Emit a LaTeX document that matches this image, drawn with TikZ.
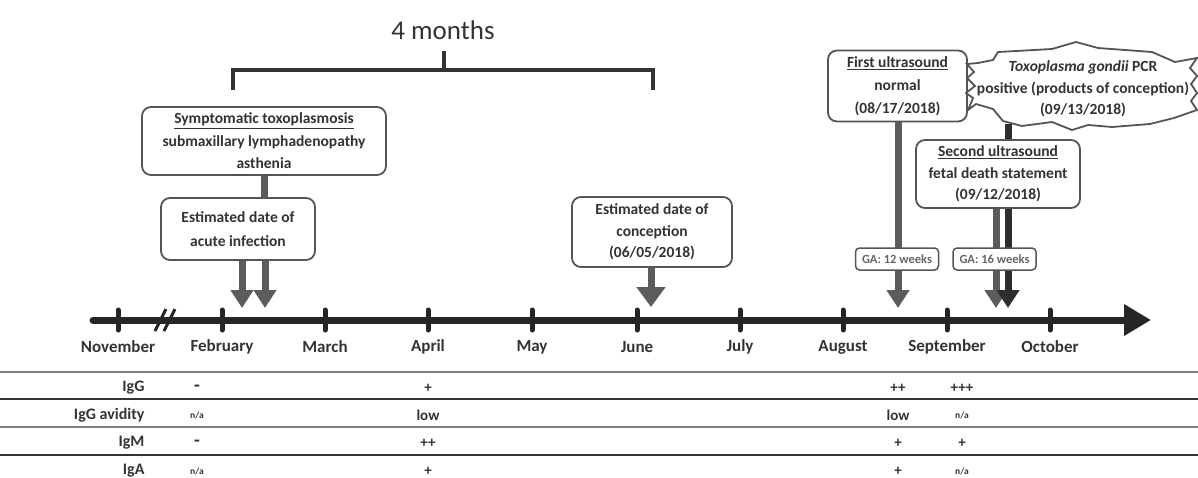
\documentclass[tikz,border=0pt]{standalone}
\usepackage{fontspec}
\setmainfont{Carlito}
\usetikzlibrary{arrows.meta}
\definecolor{txt}{HTML}{333333}
\definecolor{boxc}{HTML}{555555}
\definecolor{arr}{HTML}{5C5C5C}
\definecolor{darr}{HTML}{2E2E2E}
\definecolor{axisc}{HTML}{262626}
\definecolor{rulec}{HTML}{808080}
\definecolor{ruled}{HTML}{333333}
\definecolor{gatxt}{HTML}{666666}
\begin{document}
\begin{tikzpicture}[x=1pt,y=-1pt,
  evbox/.style={draw=boxc, line width=1.8pt, rounded corners=9pt, fill=white, align=center,
    inner sep=0pt, text=txt, font=\bfseries\fontsize{15.5}{22.5}\selectfont},
  galabel/.style={draw=boxc, line width=1.5pt, rounded corners=4pt, fill=white, inner sep=0pt,
    minimum width=83pt, minimum height=22pt, text=gatxt, font=\bfseries\fontsize{12.5}{14}\selectfont},
  garrow/.style={draw=arr, line width=7pt, -{Triangle[width=22pt,length=18pt]}},
  darrow/.style={draw=darr, line width=7pt, -{Triangle[width=22pt,length=18pt]}},
  link/.style={draw=arr, line width=7pt},
  dlink/.style={draw=darr, line width=7pt},
  axisline/.style={draw=axisc, line width=7pt, line cap=round, -{Triangle[width=30pt,length=27pt]}},
  tick/.style={draw=axisc, line width=5pt, line cap=round},
  month/.style={text=txt, font=\bfseries\fontsize{17}{20}\selectfont},
  rowlab/.style={text=txt, anchor=east, font=\bfseries\fontsize{16}{18}\selectfont},
  val/.style={text=txt, font=\bfseries\fontsize{15}{18}\selectfont},
  dashv/.style={text=txt, font=\bfseries\fontsize{19}{20}\selectfont},
  na/.style={text=txt, font=\bfseries\fontsize{9.5}{11}\selectfont},
  tabrule/.style={draw=rulec, line width=2pt},
  tabruled/.style={draw=ruled, line width=1.4pt},
  bracket/.style={draw=txt, line width=4pt}
]
\useasboundingbox (0,0) rectangle (1198,477);

% ---- 4 months bracket
\node[text=txt, font=\fontsize{27}{30}\selectfont, anchor=base] (fourm) at (443,39) {4 months};
\coordinate (bl) at (233,90);
\coordinate (br) at (653,90);
\coordinate (bm) at (444,70);
\coordinate (bt) at (444,51);
\draw[bracket] (bl) |- (bm) -| (br);
\draw[bracket] (bt) -- (bm);

% ---- timeline
\coordinate (t0) at (93,320);
\coordinate (t1) at (1151,320);
\draw[axisline] (t0) -- (t1);
\foreach \x/\m in {118/November,222/February,325/March,428/April,532/May,637/June,740/July,843/August,947/September,1050/October}{
  \draw[tick] (\x,310) -- (\x,330);
  \node[month] at (\x,347) {\m};
}
\draw[draw=axisc, line width=3pt] (155,331) -- (166,309);
\draw[draw=axisc, line width=3pt] (164,331) -- (175,309);

% ---- boxes
\node[evbox, minimum width=244pt, minimum height=68pt] (sympt) at (264,141)
  {\underline{Symptomatic toxoplasmosis}\\submaxillary lymphadenopathy\\asthenia};
\node[evbox, minimum width=154pt, minimum height=62pt, font=\bfseries\fontsize{15.5}{24}\selectfont] (acute) at (238,229)
  {Estimated date of\\acute infection};
\node[evbox, minimum width=160pt, minimum height=70pt, font=\bfseries\fontsize{15.5}{21.5}\selectfont] (concep) at (652,232)
  {Estimated date of\\conception\\(06/05/2018)};
\node[evbox, minimum width=139pt, minimum height=71pt, font=\bfseries\fontsize{15.5}{23}\selectfont] (first) at (897.5,86)
  {\underline{First ultrasound}\\normal\\(08/17/2018)};

% cloud
\draw[draw=boxc, line width=1.8pt, fill=white]
  (978,63) -- (993,60) -- (998,52) -- (1052,49) -- (1076,42) -- (1098,48) -- (1152,52)
  -- (1175,62) -- (1197,58) -- (1190,68) -- (1197,76) -- (1191,84) -- (1197,93)
  -- (1191,101) -- (1197,110) -- (1174,118)
  -- (1150,124) -- (1112,127) -- (1088,125) -- (1072,130) -- (1052,122) -- (1022,126)
  -- (1003,121) -- (993,109) -- (976,104) -- (968,110) -- (973,98) -- (966,93)
  -- (975,86) -- (967,78) -- (974,72) -- (967,64) -- cycle;
\node[align=center, inner sep=0pt, text=txt, font=\bfseries\fontsize{15.5}{21.5}\selectfont] (cloud) at (1083,89)
  {\textit{Toxoplasma gondii} PCR\\positive (products of conception)\\(09/13/2018)};
\coordinate (cb) at (1008,124);

\node[evbox, minimum width=164pt, minimum height=68pt, font=\bfseries\fontsize{15.5}{21.5}\selectfont] (second) at (998,174)
  {\underline{Second ultrasound}\\fetal death statement\\(09/12/2018)};

% ---- connectors
\draw[link] (sympt.south) -- (acute.north -| sympt.south);
\draw[dlink] (cb) -- (second.north -| cb);

\coordinate (a1) at (242,308);
\coordinate (a2) at (265,308);
\coordinate (a3) at (651,307);
\coordinate (a4) at (898,308);
\coordinate (a5) at (996,308);
\coordinate (a6) at (1008,308);
\draw[garrow] (acute.south -| a1) -- (a1);
\draw[garrow] (acute.south -| a2) -- (a2);
\draw[garrow, -{Triangle[width=28pt,length=20pt]}] (concep.south -| a3) -- (a3);
\draw[garrow] (first.south -| a4) -- (a4);
\draw[garrow] (second.south -| a5) -- (a5);
\draw[darrow] (second.south -| a6) -- (a6);

\node[galabel] (ga12) at (897,259) {GA: 12 weeks};
\node[galabel] (ga16) at (994.5,259) {GA: 16 weeks};

% ---- table
\draw[tabrule] (0,372) -- (1198,372);
\draw[tabruled] (0,399) -- (1198,399);
\draw[tabrule] (0,427) -- (1198,427);
\draw[tabruled] (0,455) -- (1198,455);
\node[rowlab] at (148,388) {IgG};
\node[rowlab] at (148,415) {IgG avidity};
\node[rowlab] at (148,443) {IgM};
\node[rowlab] at (148,471) {IgA};

\node[dashv] at (197,388) {-};
\node[na]  at (197,415) {n/a};
\node[dashv] at (197,443) {-};
\node[na]  at (197,471) {n/a};

\node[val] at (428,388) {+};
\node[val] at (428,415) {low};
\node[val] at (428,443) {++};
\node[val] at (428,471) {+};

\node[val] at (898,388) {++};
\node[val] at (898,415) {low};
\node[val] at (898,443) {+};
\node[val] at (898,471) {+};

\node[val] at (962,388) {+++};
\node[na]  at (962,415) {n/a};
\node[val] at (962,443) {+};
\node[na]  at (962,471) {n/a};
\end{tikzpicture}
\end{document}
